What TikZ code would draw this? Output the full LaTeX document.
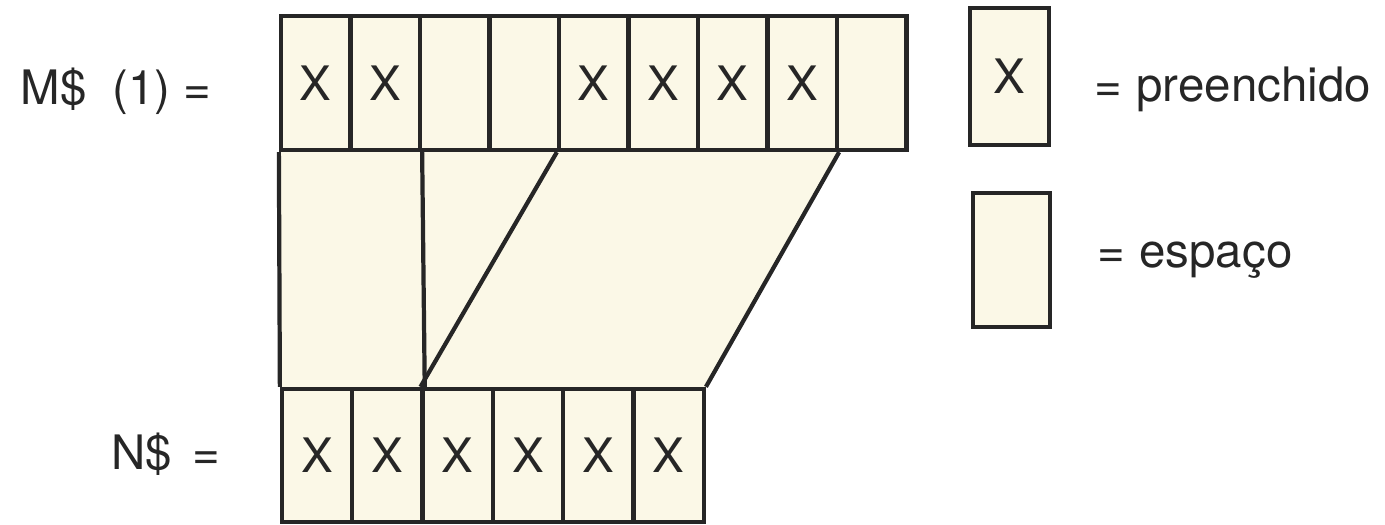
\documentclass[tikz,border=0pt]{standalone}
\usepackage{fontspec}
\setmainfont{TeX Gyre Heros}
\usepackage{tikz}
\usetikzlibrary{backgrounds}
\usepackage{xcolor}
\definecolor{creme}{RGB}{251,248,231}
\definecolor{tinta}{RGB}{38,38,38}

\begin{document}
\begin{tikzpicture}[
    x=0.01cm, y=-0.01cm,
    % Células das cadeias
    cell_box/.style={rectangle, draw=tinta, fill=creme, line width=1.2pt, minimum width=0.695cm, minimum height=1.34cm, inner sep=0pt, font=\fontsize{13.5}{16}\selectfont, text=tinta},
    low_box/.style={cell_box, minimum width=0.703cm, minimum height=1.33cm},
    % Linhas de ligação
    link_line/.style={draw=tinta, line width=1.2pt},
    % Rótulos
    label_text/.style={font=\fontsize{13.5}{16}\selectfont, text=tinta, inner sep=0pt, anchor=base west}
]
    \useasboundingbox (0,0) rectangle (1385,525);

    % --- 1. CADEIA M$(1) ---
    \foreach \c [count=\i] in {X,X,{},{},X,X,X,X,{}} {
        \node[cell_box] (m\i) at ({281+69.5*(\i-0.5)}, 83) {\c};
    }

    % --- 2. CADEIA N$ ---
    \foreach \i in {1,...,6} {
        \node[low_box] (n\i) at ({282+70.3*(\i-0.5)}, 455.5) {X};
    }

    % --- 3. ÁREA DE LIGAÇÃO ---
    \begin{scope}[on background layer]
        \fill[creme] (m1.south west) -- (m8.south east) -- (n6.north east) -- (n1.north west) -- cycle;
    \end{scope}
    \draw[link_line] (m1.south west) -- (n1.north west);
    \draw[link_line] (m2.south east) -- (n2.north east);
    \draw[link_line] (m5.south west) -- (n3.north west);
    \draw[link_line] (m8.south east) -- (n6.north east);

    % --- 4. RÓTULOS ---
    \node[label_text] (lblM) at (20, 105) {M\$\hspace{0.26cm}(1)\hspace{0.13cm}=};
    \node[label_text] (lblN) at (111, 470) {N\$\hspace{0.2cm}=};

    % --- 5. LEGENDA ---
    \node[cell_box, minimum width=0.79cm, minimum height=1.37cm] (keyfull) at (1009.5, 76.5) {X};
    \node[cell_box, minimum width=0.77cm, minimum height=1.34cm] (keyspace) at (1011.5, 260) {};
    \node[label_text] (txtfull) at (1094, 102) {=\hspace{0.14cm}preenchido};
    \node[label_text] (txtspace) at (1097, 268) {=\hspace{0.14cm}espaço};

\end{tikzpicture}
\end{document}
